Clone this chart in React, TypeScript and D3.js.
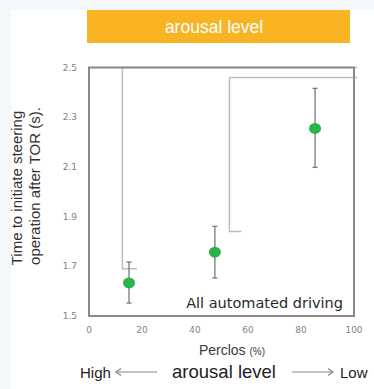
import React from "react";
import * as d3 from "d3";

const perclos = [15.1, 47.5, 85.3];
const meanTime = [1.633, 1.757, 2.255];
const errLow = [1.552, 1.653, 2.098];
const errHigh = [1.717, 1.861, 2.416];
const yTicks = [1.5, 1.7, 1.9, 2.1, 2.3, 2.5];
const xTicks = [0, 20, 40, 60, 80, 100];
// significance brackets: [x of vertical (perclos), bottom value, top value]
const brackets = [
  { x: 12.6, bottom: 1.69, top: 2.5, tickEnd: 18.1 },
  { x: 53.0, bottom: 1.84, top: 2.46, tickEnd: 57.5 },
];

export default function App() {
  const W = 374, H = 389;
  const x = d3.scaleLinear().domain([0, 100]).range([89, 354]);
  const y = d3.scaleLinear().domain([1.5, 2.5]).range([316, 67.5]);
  const tickFont = "DejaVu Sans, Verdana, sans-serif";
  const sans = "Liberation Sans, Arial, sans-serif";
  return (
    <svg width={W} height={H} style={{ position: "absolute", left: 0, top: 0 }}>
      <rect x={0} y={0} width={W} height={H} fill="#f4f8fb" />
      <rect x={11} y={10} width={W - 11} height={H - 10} fill="#ffffff" />
      <rect x={87} y={10} width={263} height={33} fill="#f9b423" />
      <text x={214} y={33} fill="#ffffff" fontFamily={sans} fontSize={17.5} textAnchor="middle">arousal level</text>

      {/* brackets */}
      {brackets.map((b, i) => (
        <g key={i} stroke="#c2bbbb" strokeWidth={1.5} fill="none">
          <path d={`M${x(b.tickEnd)},${y(b.bottom)}H${x(b.x)}V${y(b.top)}H${x(101.2)}`} />
        </g>
      ))}

      {/* frame */}
      <rect x={x(0)} y={y(2.5)} width={x(100) - x(0)} height={y(1.5) - y(2.5)} fill="none" stroke="#8f8686" strokeWidth={2} />

      {/* y ticks */}
      {yTicks.map((t) => (
        <text key={t} x={77} y={y(t) + 3} fill="#8a7e7e" fontFamily={tickFont} fontSize={9} textAnchor="end">{t.toFixed(1)}</text>
      ))}
      {/* x ticks */}
      {xTicks.map((t) => (
        <text key={t} x={x(t)} y={333} fill="#8a7e7e" fontFamily={tickFont} fontSize={9} textAnchor="middle">{t}</text>
      ))}

      {/* error bars */}
      {perclos.map((p, i) => (
        <g key={i} stroke="#7d7676" strokeWidth={1.3}>
          <line x1={x(p)} x2={x(p)} y1={y(errLow[i])} y2={y(errHigh[i])} />
          <line x1={x(p) - 2.5} x2={x(p) + 2.5} y1={y(errLow[i])} y2={y(errLow[i])} />
          <line x1={x(p) - 2.5} x2={x(p) + 2.5} y1={y(errHigh[i])} y2={y(errHigh[i])} />
        </g>
      ))}
      {perclos.map((p, i) => (
        <ellipse key={i} cx={x(p)} cy={y(meanTime[i])} rx={6} ry={5.5} fill="#2bb34a" />
      ))}

      <text x={343} y={308} fill="#2a2a2a" fontFamily={tickFont} fontSize={14.5} textAnchor="end">All automated driving</text>

      {/* y title */}
      <g transform="translate(22,188) rotate(-90)">
        <text x={0} y={0} fill="#333" fontFamily={sans} fontSize={15} textAnchor="middle">Time to initiate steering</text>
        <text x={2} y={18} fill="#333" fontFamily={sans} fontSize={15} textAnchor="middle">operation after TOR (s).</text>
      </g>

      {/* x title */}
      <text x={232} y={355} fill="#3a3a3a" fontFamily={sans} fontSize={14} textAnchor="middle">
        Perclos <tspan fontSize={10}>(%)</tspan>
      </text>

      {/* bottom arousal row */}
      <text x={80} y={378} fill="#222" fontFamily={sans} fontSize={15}>High</text>
      <g stroke="#888" strokeWidth={1.2} fill="none">
        <line x1={116} x2={157} y1={372} y2={372} />
        <path d="M121,368.5L116,372L121,375.5" />
        <line x1={292} x2={333} y1={372} y2={372} />
        <path d="M328,368.5L333,372L328,375.5" />
      </g>
      <text x={224} y={378} fill="#222" fontFamily={sans} fontSize={18.5} textAnchor="middle">arousal level</text>
      <text x={340} y={378} fill="#222" fontFamily={sans} fontSize={15}>Low</text>
    </svg>
  );
}
